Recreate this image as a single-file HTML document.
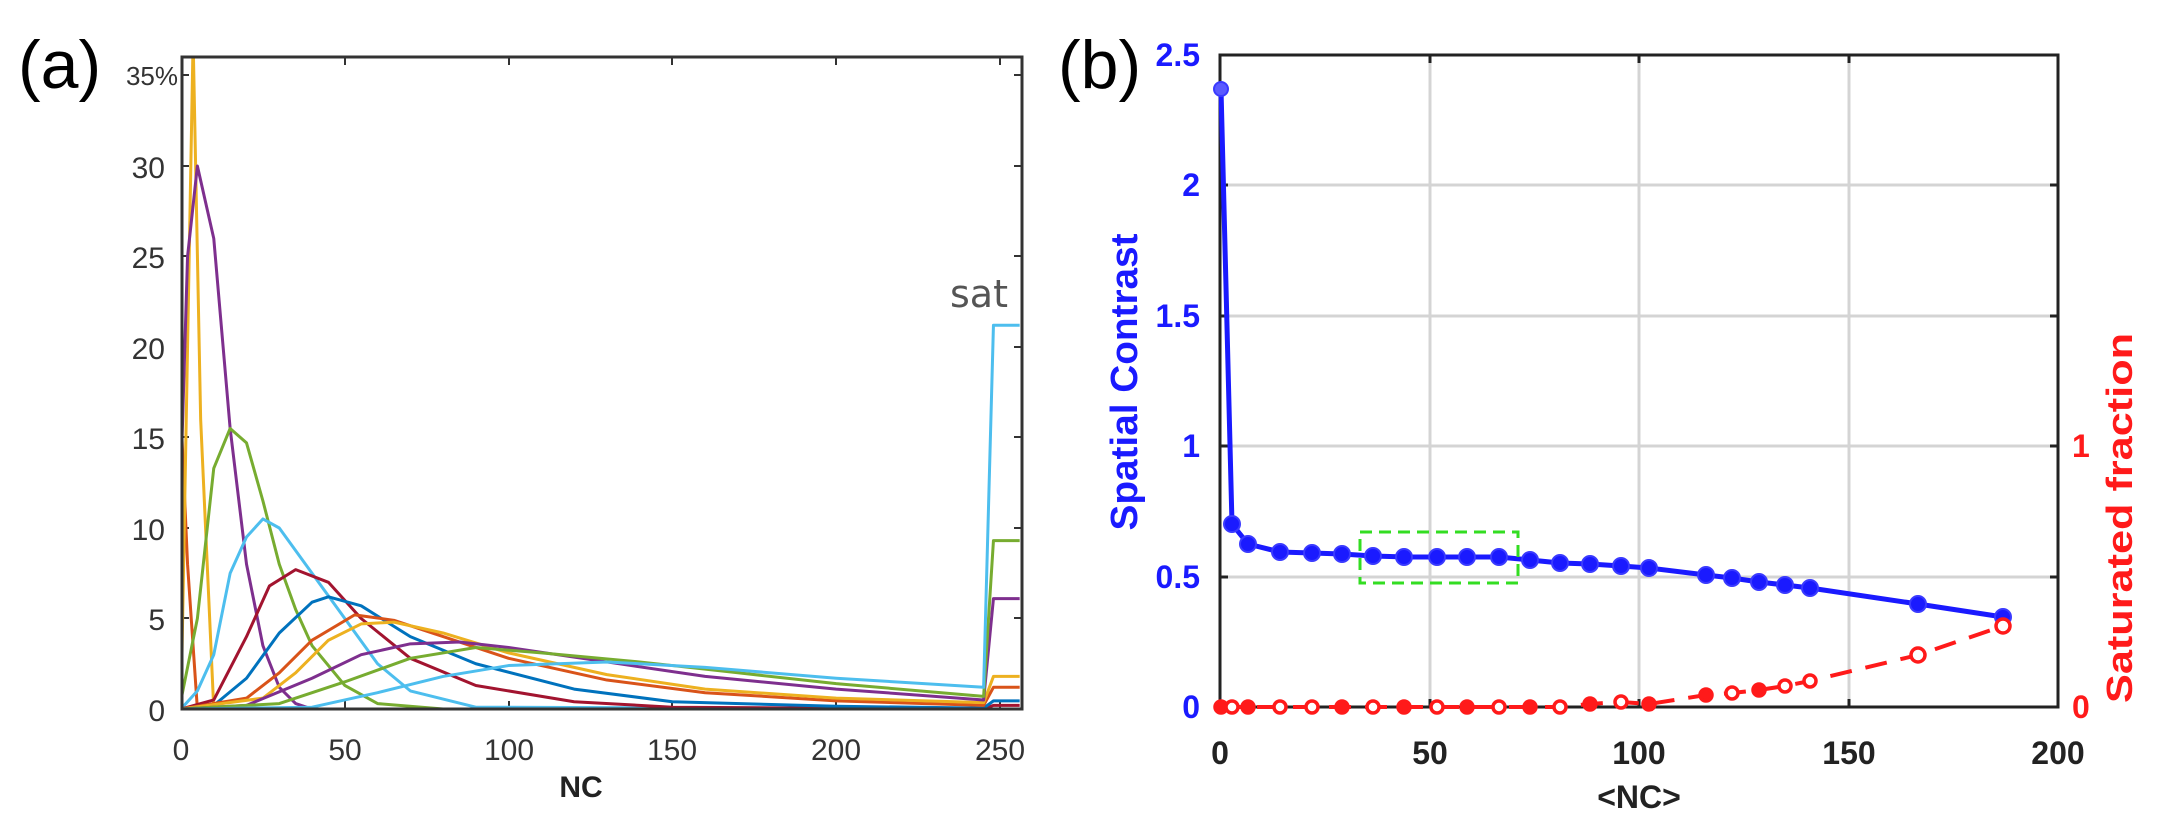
<!DOCTYPE html>
<html><head><meta charset="utf-8"><style>
html,body{margin:0;padding:0;background:#fff;}
svg{display:block;}
.ta{font-family:"Liberation Sans",sans-serif;font-size:30px;fill:#333;}
.tb{font-family:"Liberation Sans",sans-serif;font-size:32px;font-weight:bold;}
</style></head><body>
<svg width="2159" height="831" viewBox="0 0 2159 831" xmlns="http://www.w3.org/2000/svg">
<!-- Panel a -->
<text x="18" y="88" font-family="Liberation Sans,sans-serif" font-size="68" fill="#000">(a)</text>
<g stroke="#333" stroke-width="2">
<line x1="181" y1="709" x2="189" y2="709"/><line x1="181" y1="618" x2="189" y2="618"/><line x1="181" y1="528" x2="189" y2="528"/><line x1="181" y1="437" x2="189" y2="437"/><line x1="181" y1="347" x2="189" y2="347"/><line x1="181" y1="256" x2="189" y2="256"/><line x1="181" y1="166" x2="189" y2="166"/><line x1="181" y1="75" x2="189" y2="75"/>
<line x1="1022" y1="709" x2="1014" y2="709"/><line x1="1022" y1="618" x2="1014" y2="618"/><line x1="1022" y1="528" x2="1014" y2="528"/><line x1="1022" y1="437" x2="1014" y2="437"/><line x1="1022" y1="347" x2="1014" y2="347"/><line x1="1022" y1="256" x2="1014" y2="256"/><line x1="1022" y1="166" x2="1014" y2="166"/><line x1="1022" y1="75" x2="1014" y2="75"/>
<line x1="345" y1="709" x2="345" y2="701"/><line x1="509" y1="709" x2="509" y2="701"/><line x1="672" y1="709" x2="672" y2="701"/><line x1="836" y1="709" x2="836" y2="701"/><line x1="1000" y1="709" x2="1000" y2="701"/>
<line x1="345" y1="57" x2="345" y2="65"/><line x1="509" y1="57" x2="509" y2="65"/><line x1="672" y1="57" x2="672" y2="65"/><line x1="836" y1="57" x2="836" y2="65"/><line x1="1000" y1="57" x2="1000" y2="65"/>
</g>
<g class="ta" text-anchor="end">
<text x="165" y="721">0</text><text x="165" y="630">5</text><text x="165" y="540">10</text><text x="165" y="449">15</text><text x="165" y="359">20</text><text x="165" y="268">25</text><text x="165" y="178">30</text><text x="178" y="85" font-size="26">35%</text>
</g>
<g class="ta" text-anchor="middle">
<text x="181" y="760">0</text><text x="345" y="760">50</text><text x="509" y="760">100</text><text x="672" y="760">150</text><text x="836" y="760">200</text><text x="1000" y="760">250</text>
</g>
<text x="581" y="797" text-anchor="middle" font-family="Liberation Sans,sans-serif" font-size="30" font-weight="bold" fill="#222">NC</text>
<text x="950" y="307" font-family="DejaVu Sans,sans-serif" font-size="38" fill="#555">sat</text>
<svg x="181" y="57" width="841" height="652" overflow="hidden">
<g transform="matrix(3.276 0 0 -18.1 0 652)" fill="none" stroke-width="3" stroke-linejoin="round">
<path vector-effect="non-scaling-stroke" stroke="#D95319" d="M0,16.2 L2,8 L5,0 L256,0"/>
<path vector-effect="non-scaling-stroke" stroke="#EDB120" d="M0,0 L3.7,37 L6,16 L10,0 L256,0"/>
<path vector-effect="non-scaling-stroke" stroke="#7E2F8E" d="M0,13 L2,25 L5,30 L10,26 L15,15.5 L20,8 L25,3.5 L30,1.2 L35,0.3 L40,0 L256,0"/>
<path vector-effect="non-scaling-stroke" stroke="#77AC30" d="M0,0.5 L5,5 L10,13.3 L15,15.5 L20,14.7 L25,11.5 L30,8 L35,5.5 L40,3.5 L50,1.3 L60,0.3 L80,0 L256,0"/>
<path vector-effect="non-scaling-stroke" stroke="#4DBEEE" d="M0,0 L5,1 L10,3 L15,7.5 L20,9.5 L25,10.5 L30,10 L40,7.5 L50,5 L60,2.5 L70,1 L90,0.1 L256,0"/>
<path vector-effect="non-scaling-stroke" stroke="#A2142F" d="M0,0 L10,0.5 L20,4 L27,6.8 L35,7.7 L45,7 L55,5 L70,2.8 L90,1.3 L120,0.4 L150,0.1 L245,0 L248,0.2 L256,0.2"/>
<path vector-effect="non-scaling-stroke" stroke="#0072BD" d="M0,0 L10,0.2 L20,1.7 L30,4.2 L40,5.9 L45,6.2 L55,5.7 L70,4 L90,2.5 L120,1.1 L150,0.4 L200,0.15 L245,0.05 L248,0.45 L256,0.45"/>
<path vector-effect="non-scaling-stroke" stroke="#D95319" d="M0,0 L20,0.6 L30,2 L40,3.8 L53,5.2 L65,4.9 L80,4 L100,2.8 L130,1.6 L160,0.9 L200,0.45 L245,0.2 L248,1.2 L256,1.2"/>
<path vector-effect="non-scaling-stroke" stroke="#EDB120" d="M0,0 L25,0.6 L35,2 L45,3.8 L55,4.7 L65,4.8 L80,4.2 L100,3.1 L130,1.9 L160,1.1 L200,0.6 L245,0.35 L248,1.8 L256,1.8"/>
<path vector-effect="non-scaling-stroke" stroke="#7E2F8E" d="M0,0 L20,0.2 L40,1.7 L55,3 L70,3.6 L85,3.7 L100,3.4 L130,2.6 L160,1.8 L200,1.1 L245,0.5 L248,6.1 L256,6.1"/>
<path vector-effect="non-scaling-stroke" stroke="#77AC30" d="M0,0 L30,0.3 L50,1.5 L70,2.8 L90,3.4 L110,3.1 L140,2.6 L170,2 L200,1.4 L245,0.7 L248,9.3 L256,9.3"/>
<path vector-effect="non-scaling-stroke" stroke="#4DBEEE" d="M0,0 L40,0.1 L60,0.9 L80,1.8 L100,2.4 L130,2.6 L160,2.3 L200,1.7 L245,1.2 L248,21.2 L256,21.2"/>
</g>
</svg>
<rect x="182" y="57" width="840" height="652" fill="none" stroke="#333" stroke-width="3"/>

<!-- Panel b -->
<text x="1058" y="88" font-family="Liberation Sans,sans-serif" font-size="68" fill="#000">(b)</text>
<g stroke="#d4d4d4" stroke-width="3">
<line x1="1430" y1="55" x2="1430" y2="707"/><line x1="1639" y1="55" x2="1639" y2="707"/><line x1="1849" y1="55" x2="1849" y2="707"/>
<line x1="1220" y1="577" x2="2058" y2="577"/><line x1="1220" y1="446" x2="2058" y2="446"/><line x1="1220" y1="316" x2="2058" y2="316"/><line x1="1220" y1="185" x2="2058" y2="185"/>
</g>
<g stroke="#222" stroke-width="3">
<line x1="2058" y1="577" x2="2050" y2="577"/><line x1="2058" y1="446" x2="2050" y2="446"/><line x1="2058" y1="316" x2="2050" y2="316"/><line x1="2058" y1="185" x2="2050" y2="185"/>
<line x1="1220" y1="577" x2="1228" y2="577"/><line x1="1220" y1="446" x2="1228" y2="446"/><line x1="1220" y1="316" x2="1228" y2="316"/><line x1="1220" y1="185" x2="1228" y2="185"/>
<line x1="1430" y1="707" x2="1430" y2="699"/><line x1="1639" y1="707" x2="1639" y2="699"/><line x1="1849" y1="707" x2="1849" y2="699"/>
<line x1="1430" y1="55" x2="1430" y2="63"/><line x1="1639" y1="55" x2="1639" y2="63"/><line x1="1849" y1="55" x2="1849" y2="63"/>
</g>
<rect x="1220" y="55" width="838" height="652" fill="none" stroke="#222" stroke-width="3"/>
<g class="tb" fill="#1a1aff" text-anchor="end">
<text x="1200" y="718">0</text><text x="1200" y="588">0.5</text><text x="1200" y="457">1</text><text x="1200" y="327">1.5</text><text x="1200" y="196">2</text><text x="1200" y="66">2.5</text>
</g>
<g class="tb" fill="#ff1a1a" font-size="30">
<text x="2072" y="718">0</text><text x="2072" y="457">1</text>
</g>
<g class="tb" fill="#222" text-anchor="middle">
<text x="1220" y="764">0</text><text x="1430" y="764">50</text><text x="1639" y="764">100</text><text x="1849" y="764">150</text><text x="2058" y="764">200</text>
<text x="1639" y="808">&lt;NC&gt;</text>
</g>
<text transform="translate(1137,382) rotate(-90)" text-anchor="middle" font-family="Liberation Sans,sans-serif" font-size="38" font-weight="bold" fill="#1a1aff" textLength="297" lengthAdjust="spacingAndGlyphs">Spatial Contrast</text>
<text transform="translate(2132,518) rotate(-90)" text-anchor="middle" font-family="Liberation Sans,sans-serif" font-size="36" font-weight="bold" fill="#ff1a1a" textLength="370" lengthAdjust="spacingAndGlyphs">Saturated fraction</text>
<!-- blue -->
<polyline fill="none" stroke="#1a1aff" stroke-width="5" stroke-linejoin="round" points="1221,89 1232,524 1248,544 1280,552 1312,553 1342,554 1373,556 1404,557 1437,557 1467,557 1499,557 1530,560 1560,563 1590,564 1621,566 1649,568 1706,575 1732,578 1759,582 1785,585 1810,588 1918,604 2003,617"/>
<g fill="#1a1aff" stroke="#3a3aff" stroke-width="2">
<circle cx="1221" cy="89" r="7" fill="#5a5aff"/><circle cx="1232" cy="524" r="8"/><circle cx="1248" cy="544" r="8"/><circle cx="1280" cy="552" r="8"/><circle cx="1312" cy="553" r="8"/><circle cx="1342" cy="554" r="8"/><circle cx="1373" cy="556" r="8"/><circle cx="1404" cy="557" r="8"/><circle cx="1437" cy="557" r="8"/><circle cx="1467" cy="557" r="8"/><circle cx="1499" cy="557" r="8"/><circle cx="1530" cy="560" r="8"/><circle cx="1560" cy="563" r="8"/><circle cx="1590" cy="564" r="8"/><circle cx="1621" cy="566" r="8"/><circle cx="1649" cy="568" r="8"/><circle cx="1706" cy="575" r="8"/><circle cx="1732" cy="578" r="8"/><circle cx="1759" cy="582" r="8"/><circle cx="1785" cy="585" r="8"/><circle cx="1810" cy="588" r="8"/><circle cx="1918" cy="604" r="8"/><circle cx="2003" cy="617" r="8"/>
</g>
<!-- red -->
<polyline fill="none" stroke="#ff1a1a" stroke-width="4" stroke-dasharray="22,14" points="1221,707 1232,707 1248,707 1280,707 1312,707 1342,707 1373,707 1404,707 1437,707 1467,707 1499,707 1530,707 1560,707 1590,704 1621,702 1649,704 1706,695 1732,693 1759,690 1785,686 1810,681 1918,655 2003,626"/>
<g stroke="#ff1a1a" stroke-width="3.5" fill="#fff">
<circle cx="1221" cy="707" r="6" fill="#ff1a1a"/><circle cx="1232" cy="707" r="6"/><circle cx="1248" cy="707" r="6" fill="#ff1a1a"/><circle cx="1280" cy="707" r="6"/><circle cx="1312" cy="707" r="6"/><circle cx="1342" cy="707" r="6" fill="#ff1a1a"/><circle cx="1373" cy="707" r="6"/><circle cx="1404" cy="707" r="6" fill="#ff1a1a"/><circle cx="1437" cy="707" r="6"/><circle cx="1467" cy="707" r="6" fill="#ff1a1a"/><circle cx="1499" cy="707" r="6"/><circle cx="1530" cy="707" r="6" fill="#ff1a1a"/><circle cx="1560" cy="707" r="6"/><circle cx="1590" cy="704" r="6" fill="#ff1a1a"/><circle cx="1621" cy="702" r="6"/><circle cx="1649" cy="704" r="6" fill="#ff1a1a"/><circle cx="1706" cy="695" r="6" fill="#ff1a1a"/><circle cx="1732" cy="693" r="6"/><circle cx="1759" cy="690" r="6" fill="#ff1a1a"/><circle cx="1785" cy="686" r="6"/><circle cx="1810" cy="681" r="6"/><circle cx="1918" cy="655" r="7"/><circle cx="2003" cy="626" r="7"/>
</g>
<rect x="1360" y="532" width="158" height="51" fill="none" stroke="#33dd22" stroke-width="3" stroke-dasharray="12,7"/>
</svg>
</body></html>
